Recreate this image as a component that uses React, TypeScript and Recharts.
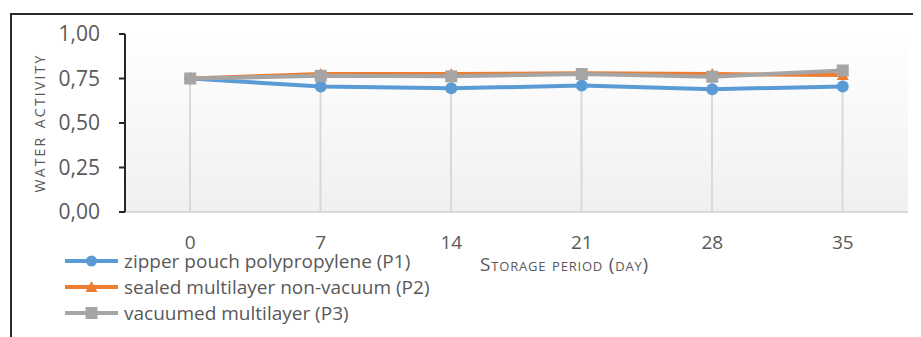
import React from "react";
import {
  ComposedChart,
  Line,
  Bar,
  XAxis,
  YAxis,
  CartesianGrid,
  Legend,
} from "recharts";

// storage days
const days = ["0", "7", "14", "21", "28", "35"];

// water activity per packaging
const p1 = [0.75, 0.705, 0.695, 0.71, 0.69, 0.705];
const p2 = [0.75, 0.775, 0.775, 0.78, 0.775, 0.77];
const p3 = [0.75, 0.765, 0.762, 0.775, 0.76, 0.795];

const yTicks = [0, 0.25, 0.5, 0.75, 1];

const seriesNames = [
  "zipper pouch polypropylene (P1)",
  "sealed multilayer non-vacuum (P2)",
  "vacuumed multilayer (P3)",
];

const colors = {
  p1: "#5b9bd5",
  p2: "#ed7d31",
  p3: "#a5a5a5",
};

const data = days.map((d, i) => ({
  day: d,
  p1: p1[i],
  p2: p2[i],
  p3: p3[i],
  // drop line goes up to the highest point of the day
  drop: Math.max(p1[i], p2[i], p3[i]),
}));

const FONT = "'Open Sans', 'Liberation Sans', sans-serif";
const TEXT = "#595959";

const SquareDot = (props: any) => {
  const { cx, cy } = props;
  if (cx == null || cy == null) return null;
  return <rect x={cx - 6} y={cy - 6} width={12} height={12} fill={colors.p3} />;
};

const TriangleDot = (props: any) => {
  const { cx, cy } = props;
  if (cx == null || cy == null) return null;
  return (
    <polygon
      points={`${cx},${cy - 6} ${cx + 6},${cy + 5} ${cx - 6},${cy + 5}`}
      fill={colors.p2}
    />
  );
};

const LegendIcon = ({ kind }: { kind: "p1" | "p2" | "p3" }) => {
  const c = colors[kind];
  return (
    <svg width={53} height={26} style={{ display: "block" }}>
      <line x1={0} y1={13} x2={53} y2={13} stroke={c} strokeWidth={4} />
      {kind === "p1" && <circle cx={26.5} cy={13} r={5.5} fill={c} />}
      {kind === "p2" && (
        <polygon points="26.5,7 32.5,18 20.5,18" fill={c} />
      )}
      {kind === "p3" && <rect x={20.5} y={7} width={12} height={12} fill={c} />}
    </svg>
  );
};

const renderLegend = () => {
  const keys: ("p1" | "p2" | "p3")[] = ["p1", "p2", "p3"];
  return (
    <div style={{ fontFamily: FONT }}>
      {keys.map((k, i) => (
        <div
          key={k}
          style={{ display: "flex", alignItems: "center", height: 26 }}
        >
          <LegendIcon kind={k} />
          <span
            style={{
              marginLeft: 6,
              fontSize: 19,
              lineHeight: 1,
              color: TEXT,
              whiteSpace: "nowrap",
            }}
          >
            {seriesNames[i]}
          </span>
        </div>
      ))}
    </div>
  );
};

export default function App() {
  return (
    <div
      style={{
        position: "relative",
        width: 913,
        height: 329,
        fontFamily: FONT,
        overflow: "hidden",
      }}
    >
      <div
        style={{
          position: "absolute",
          left: 2,
          top: 5,
          width: 1000,
          height: 400,
          borderTop: "2px solid #2b2b2b",
          borderLeft: "2px solid #2b2b2b",
        }}
      />
      <div style={{ position: "absolute", left: 0, top: 0 }}>
        <ComposedChart
          width={913}
          height={329}
          data={data}
          margin={{ top: 26, right: 13, left: 0, bottom: 0 }}
        >
          <defs>
            <linearGradient id="plotBg" x1="0" y1="0" x2="0" y2="1">
              <stop offset="0%" stopColor="#ffffff" />
              <stop offset="100%" stopColor="#f0f0f0" />
            </linearGradient>
          </defs>
          <CartesianGrid
            horizontal={false}
            vertical={false}
            fill="url(#plotBg)"
            stroke="none"
          />
          <XAxis
            dataKey="day"
            height={125}
            axisLine={{ stroke: "#d9d9d9", strokeWidth: 2 }}
            tickLine={false}
            tickSize={0}
            tickMargin={24}
            tick={{ fill: TEXT, fontSize: 19 }}
            label={{
              value: "Storage period (day)",
              position: "insideTop",
              offset: 46,
              dx: 48,
              style: {
                fill: TEXT,
                fontSize: 19,
                letterSpacing: 0.8,
                fontVariant: "small-caps",
              },
            }}
          />
          <YAxis
            width={117}
            domain={[0, 1]}
            ticks={yTicks}
            interval={0}
            axisLine={{ stroke: "#262626", strokeWidth: 2 }}
            tickLine={{ stroke: "#262626", strokeWidth: 2 }}
            tickSize={6}
            tickMargin={19}
            tick={{ fill: TEXT, fontSize: 21 }}
            tickFormatter={(v: number) => v.toFixed(2).replace(".", ",")}
            label={{
              value: "water activity",
              angle: -90,
              position: "insideLeft",
              offset: 30,
              style: {
                fill: TEXT,
                fontSize: 20,
                letterSpacing: 2.2,
                fontVariant: "small-caps",
                textAnchor: "middle",
              },
            }}
          />
          <Bar
            dataKey="drop"
            barSize={2}
            fill="#d9d9d9"
            legendType="none"
            isAnimationActive={false}
          />
          <Line
            dataKey="p1"
            name={seriesNames[0]}
            stroke={colors.p1}
            strokeWidth={4}
            dot={{ r: 6, fill: colors.p1, stroke: colors.p1, strokeWidth: 0 }}
            activeDot={false}
            isAnimationActive={false}
          />
          <Line
            dataKey="p2"
            name={seriesNames[1]}
            stroke={colors.p2}
            strokeWidth={4}
            dot={<TriangleDot />}
            activeDot={false}
            isAnimationActive={false}
          />
          <Line
            dataKey="p3"
            name={seriesNames[2]}
            stroke={colors.p3}
            strokeWidth={4}
            dot={<SquareDot />}
            activeDot={false}
            isAnimationActive={false}
          />
          <Legend
            content={renderLegend}
            layout="horizontal"
            verticalAlign="middle"
            align="center"
            wrapperStyle={{ position: "absolute", left: 57, top: 240, width: "auto" }}
          />
        </ComposedChart>
      </div>
    </div>
  );
}
